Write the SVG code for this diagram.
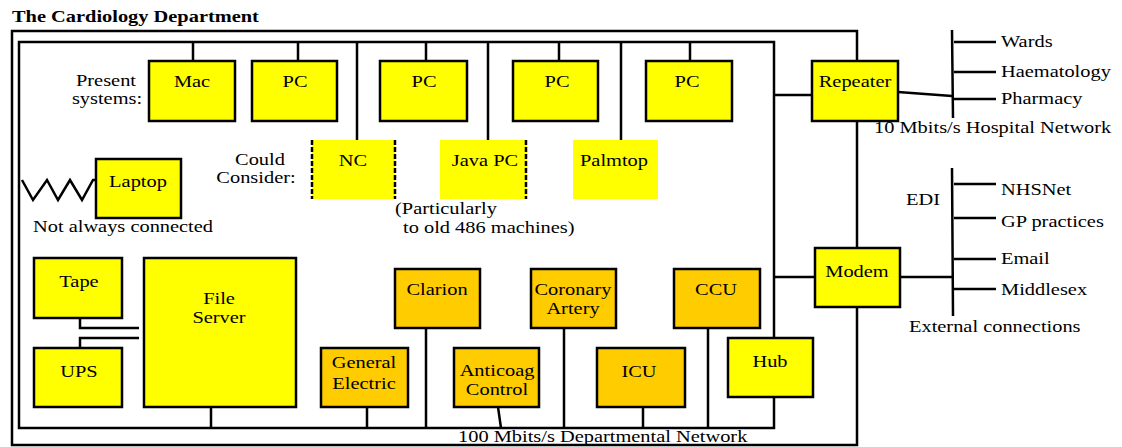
<svg xmlns="http://www.w3.org/2000/svg" width="1122" height="447" viewBox="0 0 1122 447">
<style>
.c{text-anchor:middle}
.box{fill:#FFFF00;stroke:#000;stroke-width:2.5}
.obox{fill:#FFCC00;stroke:#000;stroke-width:2.5}
.nb{fill:#FFFF00;stroke:none}
.ln{fill:none;stroke:#000;stroke-width:2.5}
.dash{fill:none;stroke:#000;stroke-width:2.5;stroke-dasharray:5 2}
</style>
<rect width="1122" height="447" fill="#fff"/>
<text font-family="Liberation Serif" font-size="17" font-weight="bold" transform="translate(12,22) scale(1.2,1)">The Cardiology Department</text>

<g id="connectors">
<path class="ln" d="M857,61 V31 H12 V445 H857 V307"/>
<path class="ln" d="M857,121 V248"/>
<rect class="ln" x="19" y="42" width="755" height="386"/>
<path class="ln" d="M193,42 V61 M298,42 V61 M426,42 V61 M559,42 V61 M690,42 V61"/>
<path class="ln" d="M357,42 V140 M488,42 V140 M621,42 V140"/>
<path class="ln" d="M22,180 L33,200 L47,180 L58,200 L70,180 L82,200 L93,180 L96,180"/>
<path class="ln" d="M80,318 V328 H139 M80,348 V338 H139"/>
<path class="ln" d="M211,407 V428 M367,407 V428 M426,328 V428 M498,407 L501,428 M564,328 V428 M643,407 V428 M708,328 V428"/>
<path class="ln" d="M774,95 H812 M774,277 H815"/>
<path class="ln" d="M898,92 L952,96 M952,30 L953,118 M954,42 H996 M954,72 H996 M954,99 H996"/>
<path class="ln" d="M900,277 H952 M952,168 L953,316 M954,184 H996 M954,218 H996 M954,259 H996 M954,289 H996"/>
</g>

<g id="labels">
<text font-family="Liberation Serif" font-size="17" class="c" transform="translate(106,86) scale(1.2,1)">Present</text>
<text font-family="Liberation Serif" font-size="17" class="c" transform="translate(107,104) scale(1.2,1)">systems:</text>
<text font-family="Liberation Serif" font-size="17" class="c" transform="translate(260,165) scale(1.2,1)">Could</text>
<text font-family="Liberation Serif" font-size="17" class="c" transform="translate(256,183) scale(1.2,1)">Consider:</text>
<text font-family="Liberation Serif" font-size="17" transform="translate(33,232) scale(1.2,1)">Not always connected</text>
<text font-family="Liberation Serif" font-size="17" transform="translate(395,214) scale(1.2,1)">(Particularly</text>
<text font-family="Liberation Serif" font-size="17" transform="translate(403,233) scale(1.2,1)">to old 486 machines)</text>
<text font-family="Liberation Serif" font-size="17" transform="translate(874,133) scale(1.2,1)">10 Mbits/s Hospital Network</text>
<text font-family="Liberation Serif" font-size="17" transform="translate(906,205) scale(1.2,1)">EDI</text>
<text font-family="Liberation Serif" font-size="17" transform="translate(909,332) scale(1.2,1)">External connections</text>
<text font-family="Liberation Serif" font-size="17" transform="translate(458,442) scale(1.2,1)">100 Mbits/s Departmental Network</text>
<text font-family="Liberation Serif" font-size="17" transform="translate(1001,47) scale(1.2,1)">Wards</text>
<text font-family="Liberation Serif" font-size="17" transform="translate(1001,77) scale(1.2,1)">Haematology</text>
<text font-family="Liberation Serif" font-size="17" transform="translate(1001,104) scale(1.2,1)">Pharmacy</text>
<text font-family="Liberation Serif" font-size="17" transform="translate(1001,195) scale(1.2,1)">NHSNet</text>
<text font-family="Liberation Serif" font-size="17" transform="translate(1001,227) scale(1.2,1)">GP practices</text>
<text font-family="Liberation Serif" font-size="17" transform="translate(1001,264) scale(1.2,1)">Email</text>
<text font-family="Liberation Serif" font-size="17" transform="translate(1001,295) scale(1.2,1)">Middlesex</text>
</g>

<g id="mac"><rect class="box" x="149" y="61" width="86" height="60"/><text font-family="Liberation Serif" font-size="17" class="c" transform="translate(192,87) scale(1.2,1)">Mac</text></g>
<g id="pc1"><rect class="box" x="252" y="61" width="85" height="60"/><text font-family="Liberation Serif" font-size="17" class="c" transform="translate(295,87) scale(1.2,1)">PC</text></g>
<g id="pc2"><rect class="box" x="380" y="61" width="87" height="60"/><text font-family="Liberation Serif" font-size="17" class="c" transform="translate(424,87) scale(1.2,1)">PC</text></g>
<g id="pc3"><rect class="box" x="513" y="61" width="85" height="60"/><text font-family="Liberation Serif" font-size="17" class="c" transform="translate(557,87) scale(1.2,1)">PC</text></g>
<g id="pc4"><rect class="box" x="646" y="61" width="86" height="60"/><text font-family="Liberation Serif" font-size="17" class="c" transform="translate(687,87) scale(1.2,1)">PC</text></g>

<g id="nc"><rect class="nb" x="312" y="140" width="83" height="59"/><path class="dash" d="M312,140 V199 M395,140 V199"/><text font-family="Liberation Serif" font-size="17" class="c" transform="translate(353,166) scale(1.2,1)">NC</text></g>
<g id="javapc"><rect class="nb" x="440" y="140" width="87" height="59"/><path class="dash" d="M526,140 V199"/><text font-family="Liberation Serif" font-size="17" class="c" transform="translate(485,166) scale(1.2,1)">Java PC</text></g>
<g id="palmtop"><rect class="nb" x="573" y="140" width="85" height="59"/><text font-family="Liberation Serif" font-size="17" class="c" transform="translate(614,166) scale(1.2,1)">Palmtop</text></g>

<g id="laptop"><rect class="box" x="96" y="159" width="85" height="59"/><text font-family="Liberation Serif" font-size="17" class="c" transform="translate(138,187) scale(1.2,1)">Laptop</text></g>

<g id="tape"><rect class="box" x="34" y="258" width="88" height="60"/><text font-family="Liberation Serif" font-size="17" class="c" transform="translate(79,287) scale(1.2,1)">Tape</text></g>
<g id="ups"><rect class="box" x="34" y="348" width="88" height="59"/><text font-family="Liberation Serif" font-size="17" class="c" transform="translate(79,377) scale(1.2,1)">UPS</text></g>
<g id="fileserver"><rect class="box" x="144" y="258" width="152" height="149"/><text font-family="Liberation Serif" font-size="17" class="c" transform="translate(219,304) scale(1.2,1)">File</text><text font-family="Liberation Serif" font-size="17" class="c" transform="translate(219,323) scale(1.2,1)">Server</text></g>

<g id="ge"><rect class="obox" x="321" y="348" width="87" height="59"/><text font-family="Liberation Serif" font-size="17" class="c" transform="translate(364,368) scale(1.2,1)">General</text><text font-family="Liberation Serif" font-size="17" class="c" transform="translate(364,389) scale(1.2,1)">Electric</text></g>
<g id="clarion"><rect class="obox" x="395" y="269" width="85" height="59"/><text font-family="Liberation Serif" font-size="17" class="c" transform="translate(437,295) scale(1.2,1)">Clarion</text></g>
<g id="anticoag"><rect class="obox" x="454" y="348" width="85" height="59"/><text font-family="Liberation Serif" font-size="17" class="c" transform="translate(497,376) scale(1.2,1)">Anticoag</text><text font-family="Liberation Serif" font-size="17" class="c" transform="translate(497,395) scale(1.2,1)">Control</text></g>
<g id="coronary"><rect class="obox" x="531" y="269" width="85" height="59"/><text font-family="Liberation Serif" font-size="17" class="c" transform="translate(573,295) scale(1.2,1)">Coronary</text><text font-family="Liberation Serif" font-size="17" class="c" transform="translate(573,314) scale(1.2,1)">Artery</text></g>
<g id="icu"><rect class="obox" x="597" y="348" width="88" height="59"/><text font-family="Liberation Serif" font-size="17" class="c" transform="translate(639,377) scale(1.2,1)">ICU</text></g>
<g id="ccu"><rect class="obox" x="674" y="269" width="86" height="59"/><text font-family="Liberation Serif" font-size="17" class="c" transform="translate(716,295) scale(1.2,1)">CCU</text></g>
<g id="hub"><rect class="box" x="728" y="338" width="85" height="59"/><text font-family="Liberation Serif" font-size="17" class="c" transform="translate(770,367) scale(1.2,1)">Hub</text></g>

<g id="repeater"><rect class="box" x="812" y="61" width="86" height="60"/><text font-family="Liberation Serif" font-size="17" class="c" transform="translate(855,87) scale(1.2,1)">Repeater</text></g>
<g id="modem"><rect class="box" x="815" y="248" width="85" height="59"/><text font-family="Liberation Serif" font-size="17" class="c" transform="translate(857,277) scale(1.2,1)">Modem</text></g>
</svg>
